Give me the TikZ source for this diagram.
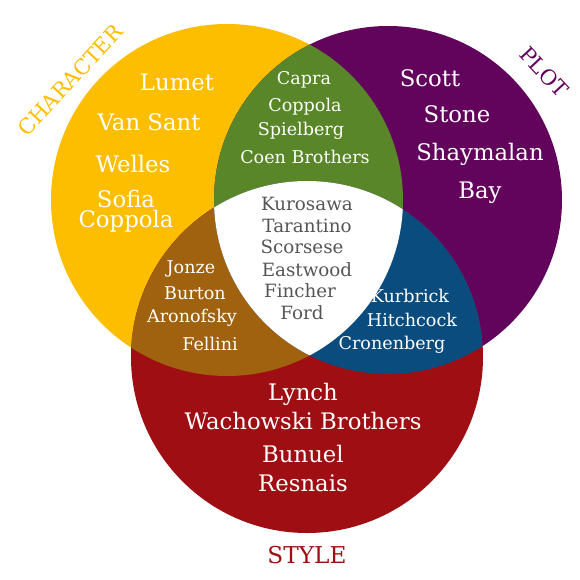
\documentclass[tikz,border=0pt]{standalone}
\usepackage{fontspec}
\setmainfont{DejaVu Serif}
\usetikzlibrary{positioning}

\definecolor{charyellow}{RGB}{253,190,0}
\definecolor{plotpurple}{RGB}{98,4,92}
\definecolor{stylered}{RGB}{158,14,18}
\definecolor{cpgreen}{RGB}{88,134,40}
\definecolor{csbrown}{RGB}{160,98,14}
\definecolor{psblue}{RGB}{10,76,126}
\definecolor{coregray}{RGB}{85,85,85}

\begin{document}
\begin{tikzpicture}[
            x=0.025cm, y=-0.025cm,
            big/.style={text=white, inner sep=0pt, font=\fontsize{16.2}{17}\selectfont},
            small/.style={text=white, inner sep=0pt, font=\fontsize{12.5}{14}\selectfont},
            core/.style={small, text=coregray, font=\fontsize{13}{14}\selectfont},
            setlabel/.style={inner sep=0pt, font=\fontsize{16.5}{17}\selectfont},
            tiltlabel/.style={setlabel, font=\fontsize{15}{16}\selectfont}
        ]
            \useasboundingbox (0,0) rectangle (580,580);

            % set centres
            \coordinate (character) at (227,200);
            \coordinate (plot) at (388,200);
            \coordinate (style) at (307,357);

            % the three sets
            \fill[charyellow] (character) circle[radius=176];
            \fill[plotpurple] (plot) circle[radius=174];
            \fill[stylered] (style) circle[radius=176];

            % overlaps
            \begin{scope}
                \clip (character) circle[radius=176];
                \fill[cpgreen] (plot) circle[radius=174];
                \fill[csbrown] (style) circle[radius=176];
            \end{scope}
            \begin{scope}
                \clip (plot) circle[radius=174];
                \fill[psblue] (style) circle[radius=176];
                \clip (character) circle[radius=176];
                \fill[white] (style) circle[radius=176];
            \end{scope}

            % set labels
            \node (charlabel) [tiltlabel, text=charyellow, rotate=47] at (70,80) {CHARACTER};
            \node (plotlabel) [tiltlabel, text=plotpurple, rotate=-47] at (544,72) {PLOT};
            \node (stylelabel) [setlabel, text=stylered] at (307,555) {STYLE};

            % character
            \node (lumet) [big] at (177,82) {Lumet};
            \node (vansant) [big] at (149,122) {Van Sant};
            \node (welles) [big] at (133,164) {Welles};
            \node (sofia) [big, align=center] at (126,211) {Sofia\\[-3pt]Coppola};

            % character + plot
            \node (capra) [small] at (304,80) {Capra};
            \node (fcoppola) [small] at (305,107) {Coppola};
            \node (spielberg) [small] at (301,131) {Spielberg};
            \node (coen) [small] at (305,157) {Coen Brothers};

            % plot
            \node (scott) [big] at (430,78) {Scott};
            \node (stone) [big] at (457,114) {Stone};
            \node (shaymalan) [big] at (480,154) {Shaymalan};
            \node (bay) [big] at (480,193) {Bay};

            % all three
            \node (kurosawa) [core] at (307,204) {Kurosawa};
            \node (tarantino) [core] at (307,226) {Tarantino};
            \node (scorsese) [core] at (302,247) {Scorsese};
            \node (eastwood) [core] at (307,270) {Eastwood};
            \node (fincher) [core] at (300,291) {Fincher};
            \node (ford) [core] at (302,313) {Ford};

            % character + style
            \node (jonze) [small] at (191,269) {Jonze};
            \node (burton) [small] at (195,293) {Burton};
            \node (aronofsky) [small] at (192,318) {Aronofsky};
            \node (fellini) [small] at (210,344) {Fellini};

            % plot + style
            \node (kurbrick) [small] at (410,296) {Kurbrick};
            \node (hitchcock) [small] at (412,320) {Hitchcock};
            \node (cronenberg) [small] at (392,345) {Cronenberg};

            % style
            \node (lynch) [big] at (303,394) {Lynch};
            \node (wachowski) [big] at (303,421) {Wachowski Brothers};
            \node (bunuel) [big] at (303,454) {Bunuel};
            \node (resnais) [big] at (303,483) {Resnais};
        \end{tikzpicture}
\end{document}
